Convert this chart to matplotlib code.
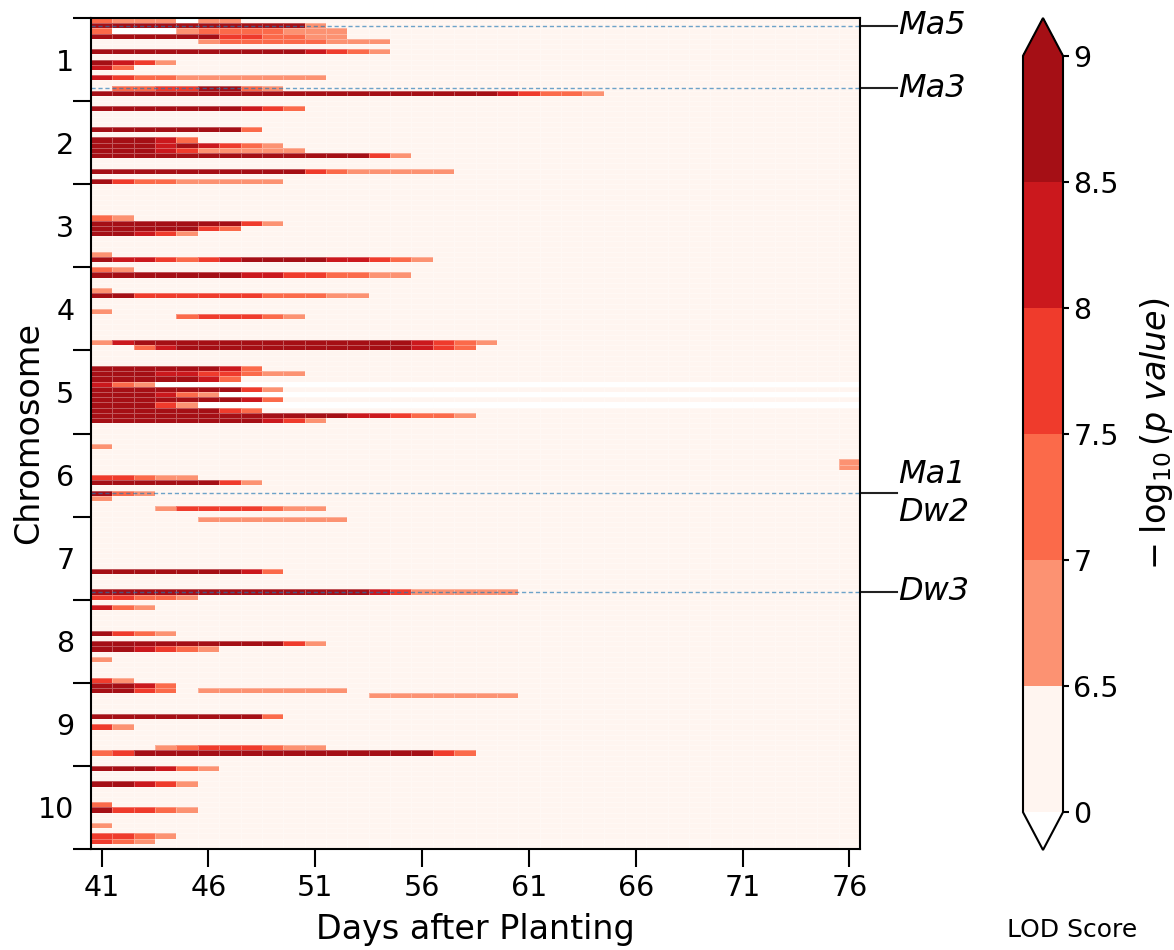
import numpy as np
import matplotlib
matplotlib.use("Agg")
import matplotlib.pyplot as plt
import matplotlib.transforms as mtransforms
from matplotlib.colors import ListedColormap, BoundaryNorm

# ---------------- data ----------------
days = list(range(41, 77))
chromosomes = [str(i) for i in range(1, 11)]
rows_per_chrom = 16

# LOD level codes: '.' below 6.5, '1' 6.5-7, '2' 7-7.5, '3' 7.5-8, '4' 8-8.5, '5' 8.5-9, 'w' missing
level_values = {'.': 3.0, '1': 6.75, '2': 7.25, '3': 7.75, '4': 8.25, '5': 8.75, 'w': np.nan}

chr1 = ["2111w11", "55555555551", "2www12222111", "555555332211", ".....122222111", "",
        "55555555554321", "", "5431", "42", "", "43221111111", "", ".22335521",
        "555555555555555555543221", ""]
chr2 = ["", "5555555432", "", "", "", "55555552", "", "55542", "555454321", "5554311111",
        "555555555555531", "", "", "55555555553211111", "", "532211111"]
chr3 = ["", "", "", "", "", "", "21", "555555531", "5555532", "55431", "", "", "", "1",
        "5443234555544321", ""]
chr4 = ["21", "555555544332211", "", "", "1", "5533333322211", "", "", "1", "....233321",
        "", "", "", "", "1455555555555554321", "..2455555555555432"]
chr5 = ["", "", "", "55555542", "5554433211", "5555542",
        "421wwwwwwwwwwwwwwwwwwwwwwwwwwwwwwwww", "555555531",
        "555421wwwwwwwwwwwwwwwwwwwwwwwwwwwwww", "555555542",
        "55531wwwwwwwwwwwwwwwwwwwwwwwwwwwwwww", "55555532", "555555555555443221",
        "55555555431", "", ""]
chr6 = ["", "", "1", "", "", "...................................1",
        "...................................1", "", "33211", "55555531", "", "521", "1", "",
        "...13333211", ""]
chr7 = [".....1111111", "", "", "", "", "", "", "", "", "", "555555542", "", "", "",
        "55555555555554311111", "33221"]
chr8 = ["", "421", "", "", "", "", "5321", "", "55555555531", "554321", "", "1", "", "", "",
        "31"]
chr9 = ["5542", "5532.1111111", ".............1111111", "", "", "", "555555552", "", "31",
        "", "", "", "...12333211", "235555555555555532", "", ""]
chr10 = ["555421", "", "", "55431", "", "", "", "2", "53321", "", "", "1", "", "3321", "321",
         ""]

qtl_labels = ["Ma5", "Ma3", "Ma1\nDw2", "Dw3"]
qtl_rows = [1, 13, 91, 110]

bounds = [0, 6.5, 7, 7.5, 8, 8.5, 9]
bound_labels = ["0", "6.5", "7", "7.5", "8", "8.5", "9"]
level_colors = ["#fff5f0", "#fc9272", "#fb6a4a", "#ef3b2c", "#cb181d", "#a50f15"]

# ---------------- build matrix ----------------
all_chr = [chr1, chr2, chr3, chr4, chr5, chr6, chr7, chr8, chr9, chr10]
matrix = []
for ch in all_chr:
    assert len(ch) == rows_per_chrom
    for s in ch:
        s = s.ljust(len(days), '.')[:len(days)]
        matrix.append([level_values[c] for c in s])
Z = np.ma.masked_invalid(np.array(matrix, dtype=float))
n_rows = Z.shape[0]

cmap = ListedColormap(level_colors)
cmap.set_over("#a50f15")
cmap.set_under("white")
cmap.set_bad("white")
norm = BoundaryNorm(bounds, cmap.N)

# ---------------- figure ----------------
W, H = 1174, 950
fig = plt.figure(figsize=(W / 100, H / 100), dpi=100)
ax = fig.add_axes([91 / W, (H - 849) / H, 769 / W, 831 / H])

xedges = np.arange(days[0] - 0.5, days[-1] + 1.0, 1.0)
yedges = np.arange(0, n_rows + 1)
mesh = ax.pcolormesh(xedges, yedges, Z, cmap=cmap, norm=norm,
                     edgecolors=(1, 1, 1, 0.3), linewidth=0.5)
ax.set_xlim(xedges[0], xedges[-1])
ax.set_ylim(n_rows, 0)

# x axis
ax.set_xticks(days[::5])
ax.set_xticklabels([str(d) for d in days[::5]])
ax.tick_params(axis='x', length=13, width=1.5, labelsize=20.5, pad=5)
ax.set_xlabel("Days after Planting", fontsize=24, labelpad=8)

# y axis: boundaries as major ticks, chromosome names as minor labels
ax.set_yticks(np.arange(0, n_rows + 1, rows_per_chrom))
ax.set_yticklabels([])
ax.set_yticks(np.arange(rows_per_chrom / 2, n_rows, rows_per_chrom), minor=True)
ax.set_yticklabels(chromosomes, minor=True)
ax.tick_params(axis='y', which='major', length=13, width=1.5)
ax.tick_params(axis='y', which='minor', length=0, labelsize=20.5, pad=12)
ax.set_ylabel("Chromosome", fontsize=24)
ax.yaxis.set_label_coords(-0.06, 0.5)

for sp in ax.spines.values():
    sp.set_linewidth(1.5)

# QTL dashed lines and labels
trans = mtransforms.blended_transform_factory(ax.transAxes, ax.transData)
for lab, r in zip(qtl_labels, qtl_rows):
    yc = r + 0.5
    ax.axhline(yc, color="#1f77b4", alpha=0.65, lw=1.0, ls=(0, (3, 2)))
    ax.plot([1.0, 1.048], [yc, yc], transform=trans, color="#222222", lw=1.5, clip_on=False)
    ax.text(1.0495, yc, lab, transform=trans, fontsize=23, style='italic',
            va='center', ha='left', linespacing=1.3)

# colorbar
cax = fig.add_axes([1023 / W, (H - 850) / H, 40 / W, 832 / H])
cb = fig.colorbar(mesh, cax=cax, extend='both', ticks=bounds, spacing='uniform')
cb.ax.set_yticklabels(bound_labels)
cb.ax.tick_params(labelsize=20.5, length=4, width=1.5)
cb.outline.set_linewidth(1.5)
cb.set_label(r"$-\;\log_{10}(p\ value)$", fontsize=24, labelpad=14)
fig.text(1072 / W, (H - 930) / H, "LOD Score", fontsize=18, ha='center', va='center')

fig.savefig("out.png", dpi=100)
